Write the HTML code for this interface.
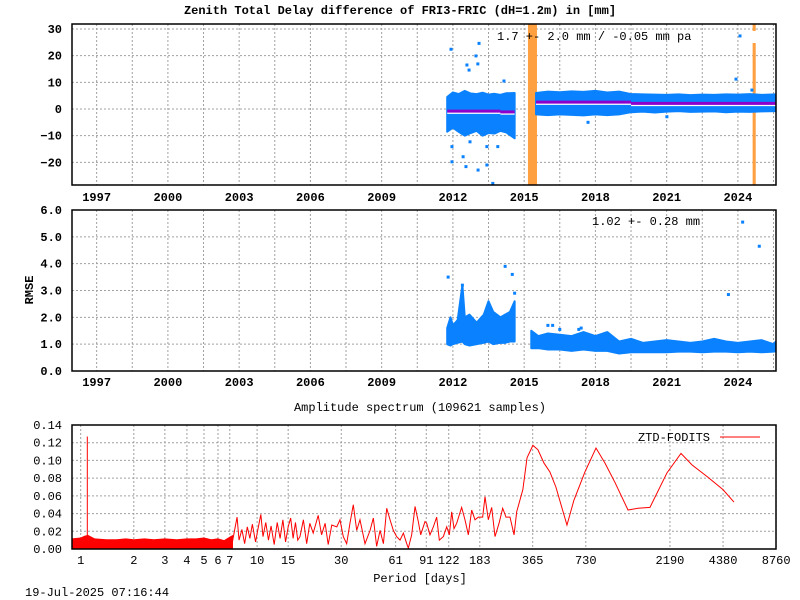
<!DOCTYPE html>
<html><head><meta charset="utf-8"><style>
html,body{margin:0;padding:0;background:#fff;}
svg{display:block;}
text{font-family:"Liberation Mono",monospace;font-size:12px;fill:#000;}
.b{font-weight:bold;}
</style></head><body>
<svg id="chart" width="800" height="600" viewBox="0 0 800 600" xmlns="http://www.w3.org/2000/svg">
<defs>
<clipPath id="cTop"><rect x="72" y="24" width="704" height="161"/></clipPath>
<clipPath id="cMid"><rect x="72" y="210" width="704" height="161"/></clipPath>
<clipPath id="cSp"><rect x="72" y="425" width="704" height="124"/></clipPath>
</defs>
</svg>
<script>
// ---------- data: top panel (ZTD difference, mm) ----------
const seg1Years = [2011.76,2012.0,2012.25,2012.5,2012.75,2013.0,2013.25,2013.5,2013.75,2014.0,2014.25,2014.6];
const seg1Hi    = [4.5,6.2,5.6,6.8,5.8,5.6,6.1,5.4,5.7,5.3,5.9,6.0];
const seg1Lo    = [-8.5,-7.0,-8.6,-10.0,-9.0,-8.2,-10.0,-9.0,-9.2,-8.2,-8.8,-11.0];
const seg2Years = [2015.5,2016.0,2016.5,2017.0,2017.5,2018.0,2018.5,2019.0,2019.5,2020.0,2020.5,2021.0,2021.5,2022.0,2022.5,2023.0,2023.5,2024.0,2024.5,2025.0,2025.7];
const seg2Hi    = [6.0,6.5,6.3,6.6,6.4,6.8,6.2,6.5,5.6,5.5,5.4,5.3,5.5,5.2,5.4,5.3,5.5,5.4,5.6,5.3,5.5];
const seg2Lo    = [-2.0,-2.3,-2.0,-2.2,-2.4,-2.0,-2.3,-2.0,-1.2,-1.0,-1.3,-1.0,-0.8,-1.1,-1.0,-0.9,-1.2,-1.0,-1.1,-0.9,-0.8];
const meanYears = [[2011.76,2014.0],[2014.0,2014.6],[2015.5,2019.5],[2019.5,2025.7]];
const meanVals  = [-0.8,-1.1,2.6,2.1];
const outYears  = [2011.92,2013.10,2012.97,2012.59,2013.05,2012.68,2014.15,2011.96,2011.96,2012.43,2012.55,2013.06,2013.43,2013.68,2013.89,2013.43,2012.72,2024.09,2023.92,2024.59,2017.69,2021.01];
const outVals   = [22.4,24.6,19.9,16.5,16.9,14.6,10.5,-14.1,-19.8,-17.9,-21.6,-22.9,-21.0,-27.9,-14.1,-14.1,-12.3,27.4,11.2,7.1,-5.0,-2.9];
const gapStart  = [2015.16,2024.62];
const gapEnd    = [2015.54,2024.75];
// ---------- data: middle panel (RMSE) ----------
const r1Years = [2011.76,2011.9,2012.0,2012.2,2012.4,2012.5,2012.7,2013.0,2013.3,2013.5,2013.7,2014.0,2014.2,2014.4,2014.6];
const r1Hi    = [1.6,2.0,1.7,1.9,3.2,2.0,2.1,1.8,2.1,2.6,2.2,2.0,2.1,2.2,2.6];
const r1Lo    = [1.0,0.95,1.0,1.05,1.1,1.0,0.95,1.0,1.05,1.1,1.0,1.05,1.05,1.1,1.1];
const r2Years = [2015.3,2015.6,2016.0,2016.5,2017.0,2017.5,2018.0,2018.5,2019.0,2019.5,2020.0,2020.5,2021.0,2021.5,2022.0,2022.5,2023.0,2023.5,2024.0,2024.5,2025.0,2025.5,2025.7];
const r2Hi    = [1.5,1.3,1.4,1.35,1.3,1.45,1.3,1.45,1.1,1.2,1.05,1.1,1.15,1.1,1.05,1.1,1.2,1.1,1.05,1.1,1.15,1.0,1.2];
const r2Lo    = [0.85,0.85,0.8,0.8,0.75,0.8,0.75,0.75,0.65,0.7,0.7,0.7,0.7,0.72,0.72,0.7,0.72,0.72,0.7,0.72,0.7,0.72,0.75];
const rOutYears = [2011.8,2012.4,2014.2,2014.5,2014.6,2016.0,2016.2,2016.5,2017.3,2017.4,2023.6,2024.2,2024.9];
const rOutVals  = [3.5,3.2,3.9,3.6,2.9,1.7,1.7,1.55,1.55,1.6,2.85,5.55,4.65];
// ---------- data: spectrum ----------
const bandP  = [0.89,1.0,1.05,1.1,1.2,1.4,1.6,1.8,2.0,2.3,2.6,3.0,3.5,4.0,4.5,5.0,5.5,6.0,6.5,7.0,7.3];
const bandHi = [0.012,0.013,0.015,0.016,0.012,0.011,0.011,0.012,0.011,0.012,0.011,0.012,0.011,0.012,0.012,0.013,0.011,0.012,0.010,0.014,0.016];
const spikeP = 1.09, spikeA = 0.127;
const specP = [7.2,7.5,7.7,7.9,8.2,8.5,8.8,9.1,9.4,9.8,10.1,10.5,10.8,11.2,11.6,12.0,12.5,13.0,13.5,14.0,14.5,15.0,15.5,16.0,16.5,17.0,
 17.5,18.3,19.1,19.9,20.8,22.2,23.2,24.3,25.3,26.5,28.3,29.5,30.8,32.2,33.6,35.1,36.7,38.3,40.9,43.7,45.6,47.6,49.8,52.0,54.3,56.7,59.2,61.8,64.6,67.5,70.5,72.0,75.2,78.6,82.0,84.6,89.5,91.5,95.5,99.8,104.2,107.9,113.7,118.8,123.0,126.8,130.7,135.3,144.4,150.8,157.6,164.6,171.9,179.6,190.0,195.9,204.6,213.7,223.2,235.2,246.7,257.7,271.5,286.2,296.2,
 321,339,366,391,423,457,494,571,625,722,834,938,1069,1267,1443,1687,2107,2530,2919,3597,4377,5050];
const specA = [0.005,0.024,0.036,0.010,0.022,0.006,0.025,0.012,0.028,0.008,0.022,0.039,0.014,0.030,0.010,0.026,0.005,0.030,0.012,0.033,0.008,0.025,0.035,0.012,0.030,0.010,
 0.014,0.033,0.006,0.029,0.018,0.038,0.016,0.029,0.005,0.027,0.025,0.033,0.014,0.006,0.029,0.050,0.021,0.033,0.006,0.021,0.035,0.003,0.021,0.006,0.046,0.033,0.021,0.014,0.010,0.018,0.006,0.001,0.016,0.048,0.031,0.016,0.031,0.029,0.016,0.025,0.036,0.010,0.014,0.025,0.016,0.042,0.023,0.029,0.047,0.033,0.016,0.044,0.033,0.036,0.036,0.059,0.033,0.047,0.014,0.029,0.046,0.036,0.036,0.016,0.042,
 0.067,0.103,0.117,0.112,0.097,0.087,0.070,0.027,0.055,0.087,0.114,0.097,0.075,0.044,0.046,0.047,0.086,0.108,0.095,0.081,0.067,0.053];
const periodTicks = [1,2,3,4,5,6,7,10,15,30,61,91,122,183,365,730,2190,4380,8760];
const specYTicks = [0,0.02,0.04,0.06,0.08,0.10,0.12,0.14];
const yearTicks = [1997,2000,2003,2006,2009,2012,2015,2018,2021,2024];
const topYTicks = [-20,-10,0,10,20,30];
const rmseTicks = [0,1,2,3,4,5,6];

const svg = document.getElementById('chart');
const NS = 'http://www.w3.org/2000/svg';
function mk(tag, attrs, parent){ const e=document.createElementNS(NS,tag); for(const k in attrs) e.setAttribute(k,attrs[k]); (parent||svg).appendChild(e); return e; }
function txt(x,y,s,anchor,cls){ const t=mk('text',{x:x,y:y,'text-anchor':anchor||'start'}); if(cls) t.setAttribute('class',cls); t.textContent=s; return t; }

const L=72, R=776;
const xYear = yr => 72.9 + (yr-1996)*23.75;
const yTop = v => 109 - v*2.667;
const yRm = v => 371 - v*26.83;
const xP = p => 80.7 + Math.log10(p)*176.4;
const ySp = a => 549 - a*885.7;

function grid(y0,y1,xs,ys){
  const g=mk('g',{stroke:'#a0a0a0','stroke-width':1,'stroke-dasharray':'2,2'});
  
  
  xs.forEach(x=>mk('line',{x1:x,x2:x,y1:y0,y2:y1},g));
  ys.forEach(y=>mk('line',{x1:L,x2:R,y1:y,y2:y},g));
}
function frame(y0,y1,name){
  const r=mk('rect',{x:L,y:y0,width:R-L,height:y1-y0,fill:'none',stroke:'#000','stroke-width':1.5});
  
  
}
const yearGrid=[]; for(let y=1997;y<=2025.6;y+=1.5) yearGrid.push(xYear(y));

const title=txt(400,14,'Zenith Total Delay difference of FRI3-FRIC (dH=1.2m) in [mm]','middle','b');



// ---------- top panel ----------
grid(24,185,yearGrid,topYTicks.map(yTop));
const gTop=mk('g',{'clip-path':'url(#cTop)'});


gapStart.forEach((s,i)=>{
  const x1=xYear(s), x2=xYear(gapEnd[i]);
  const r=mk('rect',{x:x1,y:24,width:x2-x1,height:161,fill:'#ffa040'},gTop);
  
  
});
mk('rect',{x:xYear(gapStart[1])-1,y:31,width:xYear(gapEnd[1])-xYear(gapStart[1])+2,height:12,fill:'#fff'},gTop);
function band(years,hi,lo,yf,name,parent){
  let pts=years.map((y,i)=>xYear(y)+','+yf(hi[i]));
  for(let i=years.length-1;i>=0;i--) pts.push(xYear(years[i])+','+yf(lo[i]));
  const p=mk('polygon',{points:pts.join(' '),fill:'#0a82ff',stroke:'#0a82ff','stroke-width':2,'stroke-linejoin':'round'},parent);
  
  
}
band(seg1Years,seg1Hi,seg1Lo,yTop,'ztd-series-2011-2014',gTop);
band(seg2Years,seg2Hi,seg2Lo,yTop,'ztd-series-2015-2025',gTop);
outYears.forEach((y,i)=>{
  const r=mk('rect',{x:xYear(y)-1.5,y:yTop(outVals[i])-1.5,width:3,height:3,fill:'#0a82ff'},gTop);
  
  
});
meanYears.forEach((s,i)=>{
  mk('line',{x1:xYear(s[0]),x2:xYear(s[1]),y1:yTop(meanVals[i])+2,y2:yTop(meanVals[i])+2,stroke:'#fff','stroke-width':1.5},gTop);
  const l=mk('line',{x1:xYear(s[0]),x2:xYear(s[1]),y1:yTop(meanVals[i]),y2:yTop(meanVals[i]),stroke:'#8e00cc','stroke-width':3},gTop);
  
  
});
frame(24,185,'top-plot-frame');
topYTicks.forEach(v=>{ const t=txt(62,yTop(v)+4,String(v).replace('-','\u2212'),'end','b');   });
yearTicks.forEach(y=>{ const t=txt(xYear(y),201,String(y),'middle','b');   });
const st1=txt(497,40,'1.7 +-   2.0 mm / -0.05 mm pa','start');



// ---------- middle panel ----------
grid(210,371,yearGrid,rmseTicks.map(yRm));
const gMid=mk('g',{'clip-path':'url(#cMid)'});


band(r1Years,r1Hi,r1Lo,yRm,'rmse-series-2011-2014',gMid);
band(r2Years,r2Hi,r2Lo,yRm,'rmse-series-2015-2025',gMid);
rOutYears.forEach((y,i)=>{
  const r=mk('rect',{x:xYear(y)-1.5,y:yRm(rOutVals[i])-1.5,width:3,height:3,fill:'#0a82ff'},gMid);
  
  
});
frame(210,371,'rmse-plot-frame');
rmseTicks.forEach(v=>{ const t=txt(62,yRm(v)+4,v.toFixed(1),'end','b');   });
yearTicks.forEach(y=>{ const t=txt(xYear(y),386,String(y),'middle','b');   });
const rl=txt(0,0,'RMSE','middle','b');
rl.setAttribute('transform','translate(33,290) rotate(-90)');
rl.setAttribute('font-size','11');


const st2=txt(592,225,'1.02 +-  0.28 mm','start');



// ---------- spectrum panel ----------
const st3=txt(420,411,'Amplitude spectrum (109621 samples)','middle');


grid(425,549,periodTicks.map(xP),specYTicks.map(ySp));
const gSp=mk('g',{'clip-path':'url(#cSp)'});


let bp=bandP.map((p,i)=>xP(p)+','+ySp(bandHi[i]));
bp.push(xP(bandP[bandP.length-1])+','+ySp(0)); bp.push(xP(bandP[0])+','+ySp(0));
const bnd=mk('polygon',{points:bp.join(' '),fill:'#ff0000'},gSp);


const sp=mk('line',{x1:xP(spikeP),x2:xP(spikeP),y1:ySp(0),y2:ySp(spikeA),stroke:'#ff0000','stroke-width':1},gSp);


const sl=mk('polyline',{points:specP.map((p,i)=>xP(p)+','+ySp(specA[i])).join(' '),fill:'none',stroke:'#ff0000','stroke-width':1},gSp);


frame(425,549,'spectrum-plot-frame');
specYTicks.forEach(v=>{ const t=txt(62,ySp(v)+4,v.toFixed(2),'end');   });
periodTicks.forEach(p=>{ const t=txt(xP(p),564,String(p),'middle');   });
const xt=txt(420,582,'Period [days]','middle');


const lg=txt(710,441,'ZTD-FODITS','end');


const ll=mk('line',{x1:720,x2:760,y1:437,y2:437,stroke:'#ff0000','stroke-width':1});


const ts=txt(25,596,'19-Jul-2025 07:16:44','start');


</script>
</body></html>
